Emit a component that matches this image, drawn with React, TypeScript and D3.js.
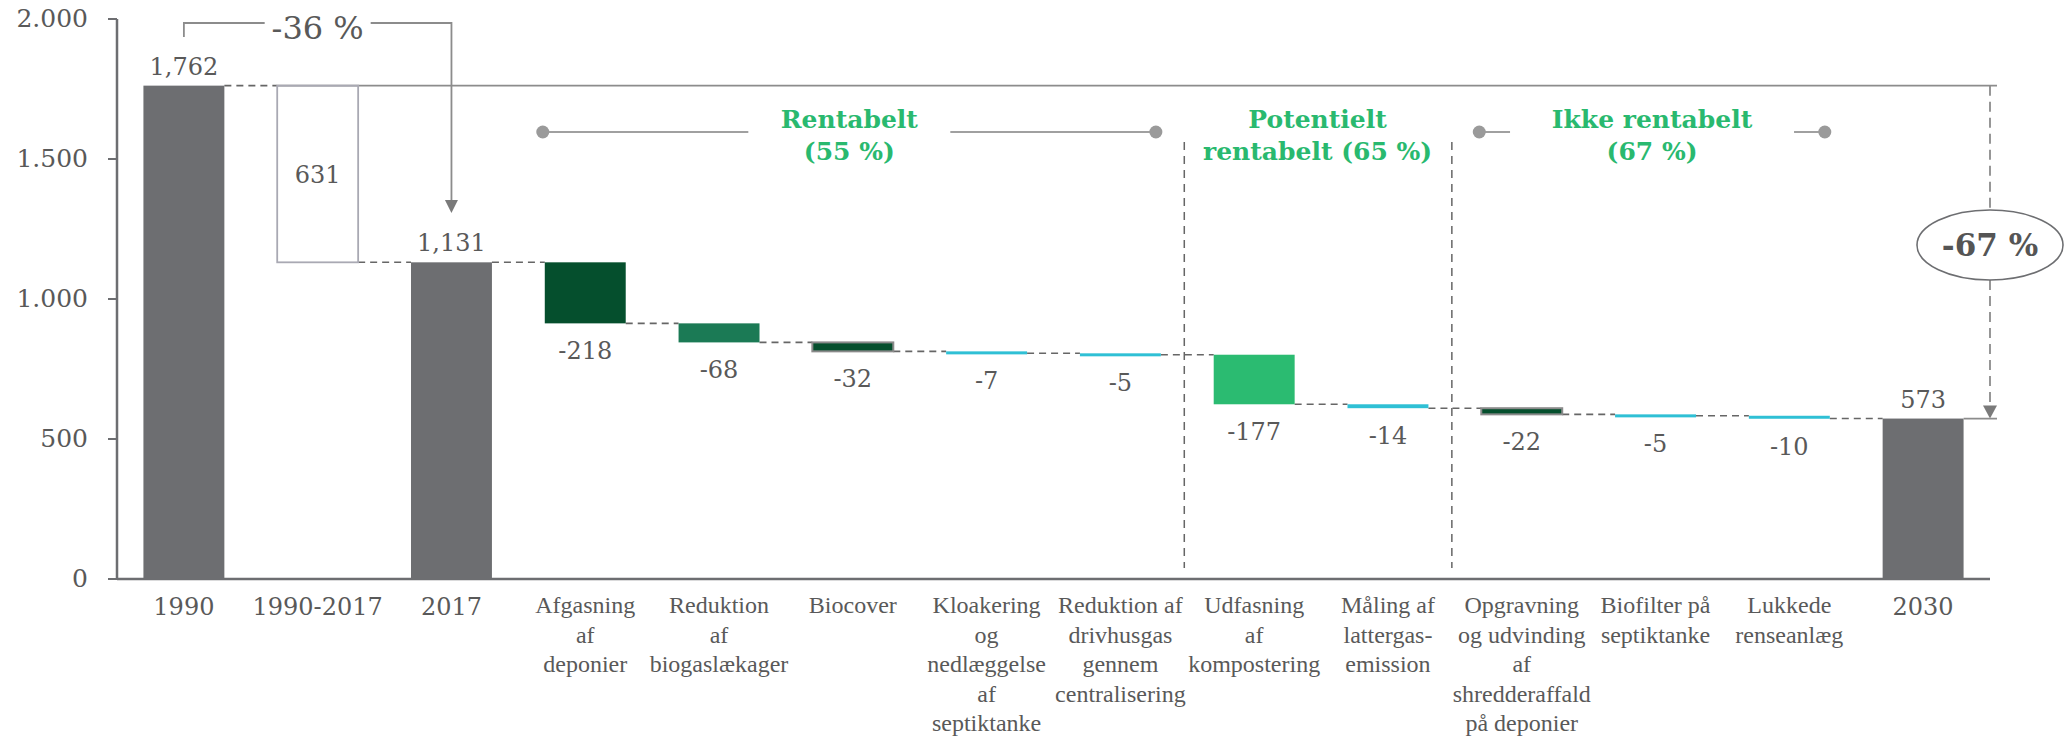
import React, { useEffect } from 'react';
import * as d3 from 'd3';

// ---------- data ----------
const categories: string[][] = [
  ['1990'],
  ['1990-2017'],
  ['2017'],
  ['Afgasning', 'af', 'deponier'],
  ['Reduktion', 'af', 'biogaslækager'],
  ['Biocover'],
  ['Kloakering', 'og', 'nedlæggelse', 'af', 'septiktanke'],
  ['Reduktion af', 'drivhusgas', 'gennem', 'centralisering'],
  ['Udfasning', 'af', 'kompostering'],
  ['Måling af', 'lattergas-', 'emission'],
  ['Opgravning', 'og udvinding', 'af', 'shredderaffald', 'på deponier'],
  ['Biofilter på', 'septiktanke'],
  ['Lukkede', 'renseanlæg'],
  ['2030'],
];
const values = [1762, -631, 1131, -218, -68, -32, -7, -5, -177, -14, -22, -5, -10, 573];
const kinds = ['total', 'bridge', 'total', 'delta', 'delta', 'delta', 'delta', 'delta', 'delta', 'delta', 'delta', 'delta', 'delta', 'total'];
const barColors = ['#6d6e71', 'none', '#6d6e71', '#054f2d', '#1b7a55', '#054f2d', '#2fc0d5', '#2fc0d5', '#2bbb71', '#2fc0d5', '#054f2d', '#2fc0d5', '#2fc0d5', '#6d6e71'];
const outlined = [false, false, false, false, false, true, false, false, false, false, true, false, false, false];
const yTicks = [0, 500, 1000, 1500, 2000];
const groups = [
  { lines: ['Rentabelt', '(55 %)'], from: 3, to: 7, bracket: true, gap: 101 },
  { lines: ['Potentielt', 'rentabelt (65 %)'], from: 8, to: 9, bracket: false, gap: 0 },
  { lines: ['Ikke rentabelt', '(67 %)'], from: 10, to: 12, bracket: true, gap: 142 },
];
const change1990to2017 = '-36 %';
const change1990to2030 = '-67 %';

// ---------- layout ----------
const W = 2069;
const H = 741;
const NUM = "'DejaVu Serif', serif";
const TXT = "'Liberation Serif', serif";
const TEXT_COL = '#595959';
const AXIS_COL = '#6d6e71';

export default function App() {
  useEffect(() => {
    document.body.style.margin = '0';
  }, []);

  const x = d3
    .scaleBand<number>()
    .domain(d3.range(categories.length))
    .range([117, 1990])
    .paddingInner(0.395)
    .paddingOuter(0.1975);
  const y = d3.scaleLinear().domain([0, 2000]).range([579, 19]);
  const bw = x.bandwidth();
  const cx = (i: number) => (x(i) as number) + bw / 2;

  const valFmt = d3.formatLocale({ decimal: '.', thousands: ',', grouping: [3], currency: ['', ''], minus: '-' }).format(',');
  const tickFmt = d3.formatLocale({ decimal: ',', thousands: '.', grouping: [3], currency: ['', ''], minus: '-' }).format(',');

  // running totals
  let level = 0;
  const bars = values.map((v, i) => {
    let start: number, end: number;
    if (kinds[i] === 'total') {
      start = 0;
      end = v;
    } else {
      start = level;
      end = level + v;
    }
    level = end;
    return { i, v, start, end, kind: kinds[i] };
  });

  const xEnd = x.range()[1];
  const topY = y(values[0]);

  return (
    <svg width={W} height={H} style={{ display: 'block', background: '#fff' }}>
      {/* y axis */}
      <line x1={117} x2={117} y1={y(2000)} y2={y(0)} stroke={AXIS_COL} strokeWidth={2.5} />
      <line x1={117} x2={xEnd} y1={y(0)} y2={y(0)} stroke={AXIS_COL} strokeWidth={2.5} />
      {yTicks.map((t) => (
        <g key={t}>
          <line x1={108} x2={117} y1={y(t)} y2={y(t)} stroke={AXIS_COL} strokeWidth={2} />
          <text x={88} y={y(t) + 8} textAnchor="end" fontFamily={NUM} fontSize={25} fill={TEXT_COL}>
            {tickFmt(t)}
          </text>
        </g>
      ))}

      {/* long top reference line */}
      <line x1={x(1) as number} x2={xEnd + 7} y1={topY} y2={topY} stroke="#8c8c8c" strokeWidth={1.8} />

      {/* connectors */}
      {bars.slice(0, -1).map((b) => {
        const yy = y(b.end);
        return (
          <line
            key={'c' + b.i}
            x1={(x(b.i) as number) + bw}
            x2={x(b.i + 1) as number}
            y1={yy}
            y2={yy}
            stroke="#666"
            strokeWidth={1.6}
            strokeDasharray="7,5"
          />
        );
      })}

      {/* bars */}
      {bars.map((b) => {
        const y0 = y(Math.max(b.start, b.end));
        const h = Math.max(Math.abs(y(b.start) - y(b.end)), 3);
        if (b.kind === 'bridge') {
          return (
            <rect
              key={'b' + b.i}
              x={x(b.i) as number}
              y={y0}
              width={bw}
              height={h}
              fill="none"
              stroke="#a9a9b3"
              strokeWidth={1.8}
            />
          );
        }
        return (
          <rect
            key={'b' + b.i}
            x={x(b.i) as number}
            y={y0}
            width={bw}
            height={h}
            fill={barColors[b.i]}
            stroke={outlined[b.i] ? '#8a8a8a' : 'none'}
            strokeWidth={outlined[b.i] ? 2 : 0}
          />
        );
      })}

      {/* value labels */}
      {bars.map((b) => {
        let ty: number;
        let txt: string;
        if (b.kind === 'total') {
          ty = y(b.end) - 11;
          txt = valFmt(b.v);
        } else if (b.kind === 'bridge') {
          ty = (y(b.start) + y(b.end)) / 2 + 9;
          txt = valFmt(-b.v);
        } else {
          ty = y(Math.min(b.start, b.end)) + 36;
          txt = valFmt(b.v);
        }
        return (
          <text key={'v' + b.i} x={cx(b.i)} y={ty} textAnchor="middle" fontFamily={NUM} fontSize={24} fill={TEXT_COL}>
            {txt}
          </text>
        );
      })}

      {/* category labels */}
      {categories.map((lines, i) => {
        const isYear = kinds[i] !== 'delta';
        return (
          <text
            key={'x' + i}
            x={cx(i)}
            y={isYear ? 615 : 613}
            textAnchor="middle"
            fontFamily={isYear ? NUM : TXT}
            fontSize={24}
            fill={TEXT_COL}
          >
            {lines.map((l, k) => (
              <tspan key={k} x={cx(i)} dy={k === 0 ? 0 : 29.5}>
                {l}
              </tspan>
            ))}
          </text>
        );
      })}

      {/* -36 % bracket */}
      {(() => {
        const xa = cx(0);
        const xb = cx(2);
        const xm = cx(1);
        const yl = 23;
        const tip = 213;
        return (
          <g>
            <path d={`M${xa},37V${yl}H${xm - 53}`} fill="none" stroke="#8c8c8c" strokeWidth={1.8} />
            <path d={`M${xm + 53},${yl}H${xb}V${tip - 12}`} fill="none" stroke="#8c8c8c" strokeWidth={1.8} />
            <path d={`M${xb - 6.5},${tip - 13}L${xb + 6.5},${tip - 13}L${xb},${tip}Z`} fill="#7a7a7a" />
            <text x={xm} y={39} textAnchor="middle" fontFamily={NUM} fontSize={32} fill={TEXT_COL}>
              {change1990to2017}
            </text>
          </g>
        );
      })()}

      {/* -67 % bracket */}
      {(() => {
        const xv = xEnd;
        const ey = 245;
        const tip = y(values[values.length - 1]);
        return (
          <g>
            <line x1={xv} x2={xv} y1={topY} y2={ey - 35} stroke="#8c8c8c" strokeWidth={1.8} strokeDasharray="10,6" />
            <line x1={xv} x2={xv} y1={ey + 35} y2={tip - 12} stroke="#8c8c8c" strokeWidth={1.8} strokeDasharray="10,6" />
            <path d={`M${xv - 7},${tip - 13}L${xv + 7},${tip - 13}L${xv},${tip}Z`} fill="#7a7a7a" />
            <line x1={(x(13) as number) + bw} x2={xv + 7} y1={tip} y2={tip} stroke="#8c8c8c" strokeWidth={1.8} />
            <ellipse cx={xv} cy={ey} rx={73} ry={35} fill="#fff" stroke="#6d6e71" strokeWidth={1.6} />
            <text x={xv} y={ey + 11} textAnchor="middle" fontFamily={NUM} fontWeight="bold" fontSize={31} fill="#555">
              {change1990to2030}
            </text>
          </g>
        );
      })()}

      {/* group separators */}
      {[groups[0].to, groups[1].to].map((gi) => {
        const xs = ((x(gi) as number) + bw + (x(gi + 1) as number)) / 2 - 3;
        return (
          <line key={'s' + gi} x1={xs} x2={xs} y1={142} y2={568} stroke="#666" strokeWidth={1.5} strokeDasharray="8,6" />
        );
      })}

      {/* group titles */}
      {groups.map((g, gi) => {
        const x0 = (x(g.from) as number) - 2;
        const x1 = (x(g.to) as number) + bw - 5;
        const xm = (x0 + x1) / 2;
        const yl = 132;
        return (
          <g key={'g' + gi}>
            {g.bracket && (
              <>
                <line x1={x0} x2={xm - g.gap} y1={yl} y2={yl} stroke="#a0a0a0" strokeWidth={2} />
                <line x1={xm + g.gap} x2={x1} y1={yl} y2={yl} stroke="#a0a0a0" strokeWidth={2} />
                <circle cx={x0} cy={yl} r={6.5} fill="#9a9a9a" />
                <circle cx={x1} cy={yl} r={6.5} fill="#9a9a9a" />
              </>
            )}
            <text x={xm} y={128} textAnchor="middle" fontFamily={NUM} fontWeight="bold" fontSize={25} fill="#29b96f">
              {g.lines.map((l, k) => (
                <tspan key={k} x={xm} dy={k === 0 ? 0 : 32}>
                  {l}
                </tspan>
              ))}
            </text>
          </g>
        );
      })}
    </svg>
  );
}
